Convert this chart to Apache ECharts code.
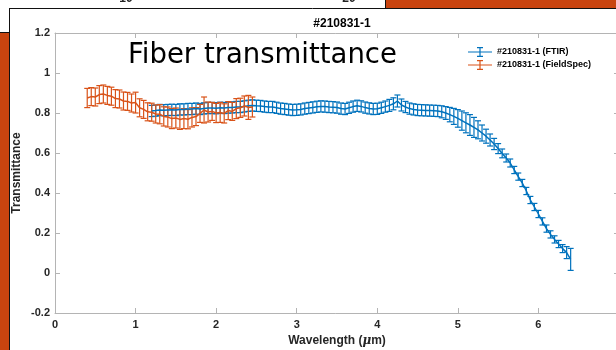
<!DOCTYPE html>
<html>
<head>
<meta charset="utf-8">
<script src="https://cdn.jsdelivr.net/npm/echarts@6/dist/echarts.min.js"></script>
<style>
  html, body { margin: 0; padding: 0; background: #fff; }
  #chart { width: 616px; height: 350px; }
</style>
</head>
<body>
<div id="chart"></div>
<script>
// FTIR 数据 (波长 µm, 透过率, 误差)
var ftirWavelength = [
  1.20, 1.25, 1.30, 1.35, 1.40, 1.45, 1.50, 1.55, 1.60, 1.65, 1.70, 1.75, 1.80, 1.85, 1.90, 1.95,
  2.00, 2.05, 2.10, 2.15, 2.20, 2.25, 2.30, 2.35, 2.40, 2.45, 2.50, 2.55, 2.60, 2.65, 2.70, 2.75,
  2.80, 2.85, 2.90, 2.95, 3.00, 3.05, 3.10, 3.15, 3.20, 3.25, 3.30, 3.35, 3.40, 3.45, 3.50, 3.55,
  3.60, 3.65, 3.70, 3.75, 3.80, 3.85, 3.90, 3.95, 4.00, 4.05, 4.10, 4.15, 4.20, 4.25, 4.30, 4.35,
  4.40, 4.45, 4.50, 4.55, 4.60, 4.65, 4.70, 4.75, 4.80, 4.85, 4.90, 4.95, 5.00, 5.05, 5.10, 5.15,
  5.20, 5.25, 5.30, 5.35, 5.40, 5.45, 5.50, 5.55, 5.60, 5.65, 5.70, 5.75, 5.80, 5.85, 5.90, 5.95,
  6.00, 6.05, 6.10, 6.15, 6.20, 6.25, 6.30, 6.35, 6.40
];
var ftirTransmittance = [
  0.810, 0.812, 0.815, 0.814, 0.815, 0.816, 0.815, 0.818, 0.818, 0.820, 0.820, 0.822, 0.820, 0.823, 0.825, 0.825,
  0.824, 0.826, 0.825, 0.827, 0.828, 0.830, 0.830, 0.833, 0.836, 0.838, 0.836, 0.835, 0.832, 0.830, 0.830, 0.826,
  0.822, 0.820, 0.817, 0.815, 0.816, 0.818, 0.822, 0.825, 0.828, 0.831, 0.833, 0.832, 0.830, 0.829, 0.827, 0.822,
  0.820, 0.826, 0.832, 0.836, 0.833, 0.827, 0.823, 0.820, 0.821, 0.826, 0.832, 0.838, 0.846, 0.860, 0.840, 0.830,
  0.822, 0.818, 0.815, 0.814, 0.813, 0.812, 0.811, 0.810, 0.806, 0.800, 0.792, 0.783, 0.773, 0.762, 0.751, 0.740,
  0.728, 0.716, 0.700, 0.684, 0.665, 0.645, 0.622, 0.598, 0.575, 0.550, 0.515, 0.482, 0.450, 0.410, 0.365, 0.330,
  0.295, 0.258, 0.222, 0.193, 0.168, 0.145, 0.122, 0.102, 0.068
];
var ftirError = [
  0.028, 0.028, 0.028, 0.028, 0.028, 0.028, 0.028, 0.028, 0.028, 0.028, 0.028, 0.028, 0.028, 0.028, 0.028, 0.028,
  0.028, 0.028, 0.028, 0.028, 0.028, 0.028, 0.028, 0.028, 0.028, 0.028, 0.028, 0.028, 0.028, 0.028, 0.028, 0.028,
  0.028, 0.028, 0.028, 0.028, 0.028, 0.028, 0.028, 0.028, 0.028, 0.028, 0.028, 0.028, 0.028, 0.028, 0.028, 0.028,
  0.028, 0.028, 0.028, 0.028, 0.028, 0.028, 0.028, 0.028, 0.028, 0.028, 0.028, 0.030, 0.030, 0.030, 0.030, 0.028,
  0.028, 0.028, 0.028, 0.028, 0.028, 0.028, 0.028, 0.028, 0.030, 0.032, 0.036, 0.040, 0.044, 0.048, 0.050, 0.052,
  0.050, 0.045, 0.040, 0.035, 0.030, 0.028, 0.025, 0.022, 0.020, 0.020, 0.018, 0.018, 0.018, 0.018, 0.018, 0.018,
  0.018, 0.018, 0.018, 0.018, 0.018, 0.018, 0.020, 0.030, 0.055
];

// FieldSpec 数据
var fsWavelength = [
  0.40, 0.45, 0.50, 0.55, 0.60, 0.65, 0.70, 0.75, 0.80, 0.85, 0.90, 0.95, 1.00, 1.05,
  1.10, 1.15, 1.20, 1.25, 1.30, 1.35, 1.40, 1.45, 1.50, 1.55, 1.60, 1.65, 1.70, 1.75,
  1.80, 1.85, 1.90, 1.95, 2.00, 2.05, 2.10, 2.15, 2.20, 2.25, 2.30, 2.35, 2.40, 2.45
];
var fsTransmittance = [
  0.875, 0.882, 0.880, 0.892, 0.895, 0.888, 0.884, 0.872, 0.870, 0.860, 0.858, 0.850, 0.852, 0.826,
  0.818, 0.806, 0.804, 0.795, 0.794, 0.783, 0.780, 0.772, 0.775, 0.768, 0.772, 0.769, 0.778, 0.782,
  0.798, 0.815, 0.805, 0.808, 0.800, 0.803, 0.798, 0.812, 0.808, 0.822, 0.826, 0.835, 0.828, 0.830
];
var fsError = [
  0.048, 0.045, 0.045, 0.045, 0.045, 0.045, 0.045, 0.045, 0.045, 0.045, 0.045, 0.045, 0.052, 0.045,
  0.045, 0.045, 0.045, 0.045, 0.048, 0.048, 0.050, 0.050, 0.050, 0.050, 0.050, 0.048, 0.048, 0.045,
  0.045, 0.065, 0.050, 0.045, 0.048, 0.050, 0.048, 0.045, 0.045, 0.050, 0.048, 0.050, 0.060, 0.050
];

var xTicks = [0, 7, 1];
var yTicks = [-0.2, 1.2, 0.2];

var blue = '#0072BD';
var orange = '#D95319';
var axisGrey = '#b4b4b4';
var font = 'Liberation Sans';

function pairs(xs, ys) {
  return xs.map(function (x, i) { return [x, ys[i]]; });
}
function triples(xs, ys, es) {
  return xs.map(function (x, i) { return [x, ys[i], es[i]]; });
}

// 误差棒: 竖线加上下两个横帽
function errorBar(color) {
  return function (params, api) {
    var x = api.value(0), y = api.value(1), e = api.value(2);
    var hi = api.coord([x, y + e]);
    var lo = api.coord([x, y - e]);
    var cap = 3;
    var st = { stroke: color, lineWidth: 1.2 };
    return {
      type: 'group',
      children: [
        { type: 'line', shape: { x1: hi[0], y1: hi[1], x2: lo[0], y2: lo[1] }, style: st },
        { type: 'line', shape: { x1: hi[0] - cap, y1: hi[1], x2: hi[0] + cap, y2: hi[1] }, style: st },
        { type: 'line', shape: { x1: lo[0] - cap, y1: lo[1], x2: lo[0] + cap, y2: lo[1] }, style: st }
      ]
    };
  };
}

var myChart = echarts.init(document.getElementById('chart'));

var tickLabel = { color: '#262626', fontFamily: font, fontWeight: 'bold', fontSize: 11 };
var boxLine = { show: true, onZero: false, lineStyle: { color: axisGrey, width: 1 } };
var boxTick = { show: true, inside: true, length: 5, lineStyle: { color: axisGrey } };

var option = {
  backgroundColor: '#fff',
  animation: false,
  title: {
    text: '#210831-1',
    left: 337,
    top: 13,
    textAlign: 'center',
    textStyle: { fontFamily: font, fontWeight: 'bold', fontSize: 12, color: '#000' }
  },
  // 绘图区右边超出画布, 不让 v6 自动收缩
  grid: { left: 55, top: 33, width: 564, height: 280, outerBoundsMode: 'none' },
  legend: {
    data: ['#210831-1 (FTIR)', '#210831-1 (FieldSpec)'],
    orient: 'vertical',
    left: 463,
    top: 42,
    itemWidth: 24,
    itemHeight: 12,
    itemGap: 3,
    icon: 'path://M0,5.4h24v1.2H0z M11.4,1h1.2v10h-1.2z M9,1h6v1.2H9z M9,9.8h6v1.2H9z',
    textStyle: { fontFamily: font, fontWeight: 'bold', fontSize: 9, color: '#000' }
  },
  xAxis: [{
    type: 'value', min: xTicks[0], max: xTicks[1], interval: xTicks[2],
    name: 'Wavelength ({mu|μ}m)',
    nameLocation: 'middle', nameGap: 22, nameMoveOverlap: false,
    nameTextStyle: {
      fontFamily: font, fontWeight: 'bold', fontSize: 12, color: '#262626',
      rich: { mu: { fontFamily: 'DejaVu Serif', fontStyle: 'italic', fontSize: 12, color: '#262626' } }
    },
    axisLine: boxLine, axisTick: boxTick,
    axisLabel: Object.assign({ margin: 6 }, tickLabel),
    splitLine: { show: false }
  }, {
    type: 'value', min: xTicks[0], max: xTicks[1], interval: xTicks[2], position: 'top',
    axisLine: boxLine, axisTick: boxTick, axisLabel: { show: false }, splitLine: { show: false }
  }],
  yAxis: [{
    type: 'value', min: yTicks[0], max: yTicks[1], interval: yTicks[2],
    name: 'Transmittance',
    nameLocation: 'middle', nameGap: 32, nameMoveOverlap: false,
    nameTextStyle: { fontFamily: font, fontWeight: 'bold', fontSize: 12, color: '#262626' },
    axisLine: boxLine, axisTick: boxTick,
    axisLabel: Object.assign({ margin: 5, formatter: function (v) { return +v.toFixed(1) + ''; } }, tickLabel),
    splitLine: { show: false }
  }, {
    type: 'value', min: yTicks[0], max: yTicks[1], interval: yTicks[2], position: 'right',
    axisLine: boxLine, axisTick: boxTick, axisLabel: { show: false }, splitLine: { show: false }
  }],
  series: [{
    name: '#210831-1 (FTIR)',
    type: 'line',
    data: pairs(ftirWavelength, ftirTransmittance),
    symbol: 'none',
    color: blue,
    lineStyle: { color: blue, width: 1.5 }
  }, {
    name: 'ftirErr',
    type: 'custom',
    data: triples(ftirWavelength, ftirTransmittance, ftirError),
    renderItem: errorBar(blue),
    encode: { x: 0, y: 1 }
  }, {
    name: '#210831-1 (FieldSpec)',
    type: 'line',
    data: pairs(fsWavelength, fsTransmittance),
    symbol: 'none',
    color: orange,
    lineStyle: { color: orange, width: 1.5 }
  }, {
    name: 'fsErr',
    type: 'custom',
    data: triples(fsWavelength, fsTransmittance, fsError),
    renderItem: errorBar(orange),
    encode: { x: 0, y: 1 }
  }],
  graphic: [
    // 幻灯片背景
    { type: 'rect', shape: { x: 0, y: 33, width: 9, height: 317 }, style: { fill: '#C9440F' }, silent: true },
    { type: 'rect', shape: { x: 386, y: 0, width: 230, height: 8 }, style: { fill: '#C9440F' }, silent: true },
    { type: 'line', shape: { x1: 9.5, y1: 8, x2: 9.5, y2: 350 }, style: { stroke: '#111', lineWidth: 1 }, silent: true },
    { type: 'line', shape: { x1: 9, y1: 8.5, x2: 616, y2: 8.5 }, style: { stroke: '#111', lineWidth: 1 }, silent: true },
    { type: 'line', shape: { x1: 0, y1: 32.5, x2: 9, y2: 32.5 }, style: { stroke: '#111', lineWidth: 1 }, silent: true },
    { type: 'line', shape: { x1: 385.5, y1: 0, x2: 385.5, y2: 8 }, style: { stroke: '#111', lineWidth: 1 }, silent: true },
    { type: 'text', x: 126, y: -7, style: { text: '10', fontFamily: font, fontWeight: 'bold', fontSize: 12, fill: '#222', align: 'center', verticalAlign: 'top' }, silent: true },
    { type: 'text', x: 349, y: -7, style: { text: '20', fontFamily: font, fontWeight: 'bold', fontSize: 12, fill: '#222', align: 'center', verticalAlign: 'top' }, silent: true },
    { type: 'text', x: 128, y: 56, style: { text: 'Fiber transmittance', fontFamily: 'DejaVu Sans', fontSize: 27.5, fill: '#000', align: 'left', verticalAlign: 'middle' }, silent: true }
  ]
};

myChart.setOption(option);
</script>
</body>
</html>
